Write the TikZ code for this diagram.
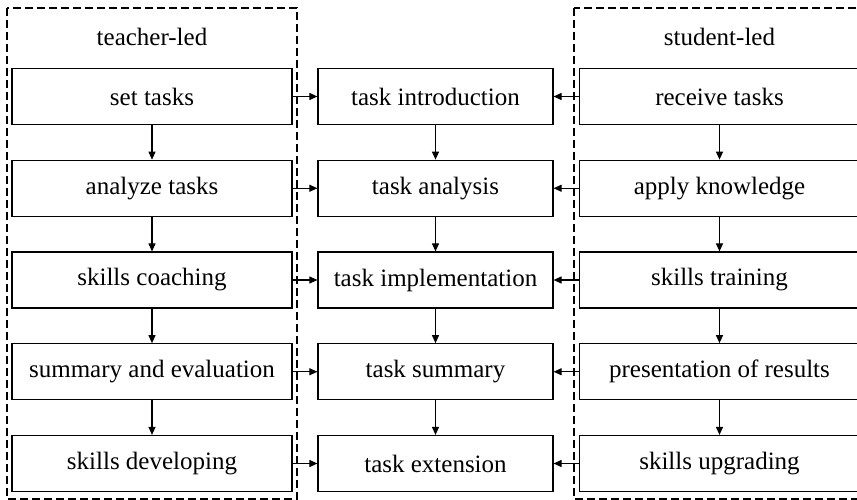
\documentclass[tikz,border=0pt]{standalone}
\usepackage{fontspec}
\setmainfont{Liberation Serif}
\usepackage{tikz}
\usetikzlibrary{arrows.meta}

\begin{document}
\begin{tikzpicture}[
  x=1pt, y=-1pt,
  box/.style={rectangle, draw, line width=1.2pt, minimum height=56pt,
              inner sep=0pt, font=\fontsize{25}{30}\selectfont},
  sidebox/.style={box, minimum width=280pt},
  midbox/.style={box, minimum width=235pt},
  group/.style={draw, dash pattern=on 8pt off 4pt, line width=1.1pt},
  heading/.style={font=\fontsize{25}{30}\selectfont},
  arr/.style={-{Triangle[length=8pt,width=7pt]}, line width=1.1pt}]
\useasboundingbox (0,0) rectangle (857,500);
\draw[group] (7,8) rectangle (297,499);
\draw[group] (574,8) rectangle (866,499);
\node[heading] (tl) at (152,37) {teacher-led};
\node[heading] (sl) at (719.5,37) {student-led};
\foreach \i/\a/\b/\c in {1/set tasks/task introduction/receive tasks,
    2/analyze tasks/task analysis/apply knowledge,
    3/skills coaching/task implementation/skills training,
    4/summary and evaluation/task summary/presentation of results,
    5/skills developing/task extension/skills upgrading} {
  \node[sidebox] (t\i) at (152,{96.5+91.75*(\i-1)}) {\a};
  \node[midbox] (m\i) at (435.5,{96.5+91.75*(\i-1)}) {\b};
  \node[sidebox] (s\i) at (719.5,{96.5+91.75*(\i-1)}) {\c};
  \draw[arr] (t\i) -- (m\i);
  \draw[arr] (s\i) -- (m\i);
}
\foreach \i [evaluate=\i as \j using int(\i+1)] in {1,...,4} {
  \draw[arr] (t\i) -- (t\j);
  \draw[arr] (m\i) -- (m\j);
  \draw[arr] (s\i) -- (s\j);
}
\end{tikzpicture}
\end{document}
